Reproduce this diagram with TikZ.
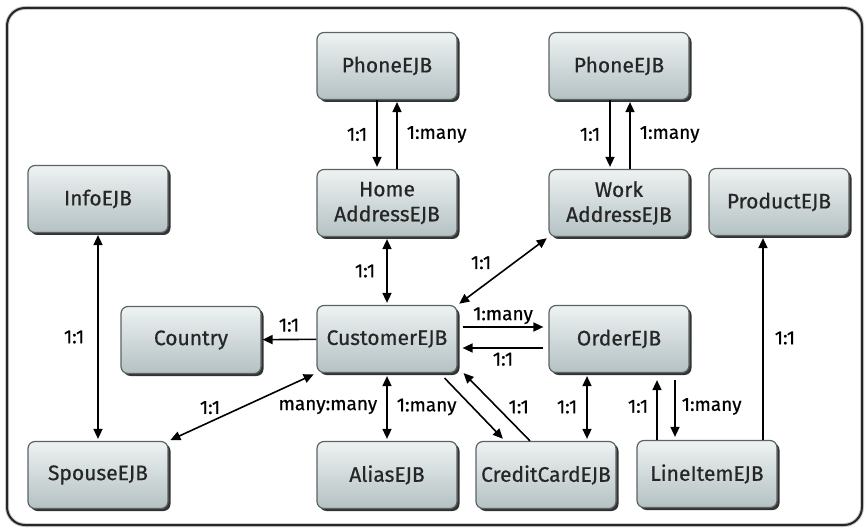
\documentclass[tikz,border=0pt]{standalone}
\usepackage{fontspec}
\setmainfont{Fira Sans}[FakeBold=0.6]
\usetikzlibrary{positioning,arrows.meta,shadows}

\definecolor{boxtop}{HTML}{EEF2F2}
\definecolor{boxbot}{HTML}{B4C1C3}
\definecolor{boxline}{HTML}{5C6365}

\tikzset{
  ejb/.style={rounded corners=7pt, draw=boxline, line width=1.2pt,
    top color=boxtop, bottom color=boxbot,
    minimum width=140pt, minimum height=67pt, align=center,
    font=\fontsize{21}{25}\selectfont, text=black!85,
    drop shadow={shadow xshift=2.5pt, shadow yshift=-2.5pt, fill=black!80, opacity=1}},
  rel/.style={line width=1.6pt, -{Triangle[length=10pt,width=9pt]}},
  both/.style={line width=1.6pt, {Triangle[length=10pt,width=9pt]}-{Triangle[length=10pt,width=9pt]}},
  lbl/.style={font=\fontsize{19}{20}\selectfont, inner sep=1pt}
}

\begin{document}
\begin{tikzpicture}[x=1pt,y=-1pt]
        \useasboundingbox (0,0) rectangle (867,529);
        \draw[rounded corners=18pt, line width=4pt, black!20] (7,8) rectangle (862,525);
        \draw[rounded corners=18pt, line width=2pt, black!85] (7,8) rectangle (862,525);

        \node[ejb] at (387,66) (phoneA) {PhoneEJB};
        \node[ejb] at (619,66) (phoneB) {PhoneEJB};
        \node[ejb] at (387,203) (home) {Home\\AddressEJB};
        \node[ejb] at (619,203) (work) {Work\\AddressEJB};
        \node[ejb] at (98,199) (info) {InfoEJB};
        \node[ejb] at (779,202) (product) {ProductEJB};
        \node[ejb] at (191,340) (country) {Country};
        \node[ejb] at (387,339) (customer) {CustomerEJB};
        \node[ejb] at (619,339) (order) {OrderEJB};
        \node[ejb] at (98,475) (spouse) {SpouseEJB};
        \node[ejb] at (387,475) (alias) {AliasEJB};
        \node[ejb] at (546,475) (credit) {CreditCardEJB};
        \node[ejb] at (707,474) (lineitem) {LineItemEJB};

        % phones and addresses
        \draw[rel,shorten >=2pt] ([xshift=-10pt]phoneA.south) -- node[lbl,midway,left=8pt]{1:1} ([xshift=-10pt]home.north);
        \draw[rel,shorten >=2pt] ([xshift=10pt]home.north) -- node[lbl,midway,right=8pt]{1:many} ([xshift=10pt]phoneA.south);
        \draw[rel,shorten >=2pt] ([xshift=-9pt]phoneB.south) -- node[lbl,midway,left=8pt]{1:1} ([xshift=-9pt]work.north);
        \draw[rel,shorten >=2pt] ([xshift=11pt]work.north) -- node[lbl,midway,right=8pt]{1:many} ([xshift=11pt]phoneB.south);

        % customer
        \draw[both,shorten <=2pt,shorten >=2pt] (info) -- node[lbl,midway,left=12pt]{1:1} (spouse);
        \draw[both,shorten <=2pt,shorten >=2pt] (home) -- node[lbl,midway,left=10pt]{1:1} (customer);
        \draw[both,shorten <=2pt,shorten >=2pt] (customer.north east) -- node[lbl,midway,above left=0pt and 10pt]{1:1} (work.south west);
        \draw[rel,shorten >=1pt] (customer) -- node[lbl,midway,above=6pt]{1:1} (country);
        \draw[rel,shorten <=5pt,shorten >=5pt] ([yshift=12pt]customer.east) -- node[lbl,midway,above=1pt]{1:many} ([yshift=12pt]order.west);
        \draw[rel,shorten <=5pt,shorten >=5pt] ([yshift=-9pt]order.west) -- node[lbl,midway,below=3pt]{1:1} ([yshift=-9pt]customer.east);
        \draw[both,shorten <=3pt,shorten >=2pt] (customer.south west) -- node[lbl,pos=.72,above=6pt]{1:1} (spouse.north east);
        \draw[both,shorten <=3pt,shorten >=2pt] (customer) -- node[lbl,midway,left=8pt]{many:many} node[lbl,midway,right=8pt]{1:many} (alias);

        % credit card and orders
        \draw[rel,shorten >=3pt] ([xshift=-13pt,yshift=-5pt]customer.south east) -- ([xshift=-41pt]credit.north);
        \draw[rel] ([xshift=-16pt]credit.north) -- node[lbl,midway,right=10pt]{1:1} ([xshift=6pt]customer.south east);
        \draw[both,shorten <=3pt,shorten >=2pt] ([xshift=-32pt]order.south) -- node[lbl,midway,left=8pt]{1:1} ([xshift=41pt]credit.north);
        \draw[rel,shorten >=7pt] ([xshift=-50pt]lineitem.north) -- node[lbl,midway,left=7pt]{1:1} ([xshift=38pt]order.south);
        \draw[rel,shorten <=7pt,shorten >=3pt] ([xshift=56pt]order.south) -- node[lbl,midway,right=5pt]{1:many} ([xshift=-32pt]lineitem.north);
        \draw[rel,shorten >=2pt] ([xshift=56pt]lineitem.north) -- node[lbl,midway,right=10pt]{1:1} ([xshift=-16pt]product.south);
      \end{tikzpicture}
\end{document}
